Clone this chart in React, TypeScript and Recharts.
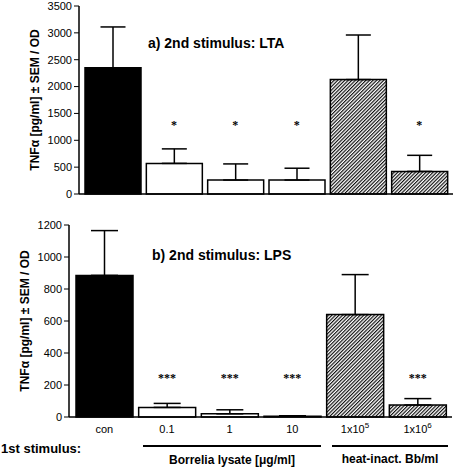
import React from 'react'
import {
  Bar,
  Cell,
  ComposedChart,
  ErrorBar,
  ReferenceDot,
  XAxis,
  YAxis,
} from 'recharts'

const categories = ['con', '0.1', '1', '10', '1x10^5', '1x10^6']
const fills = ['#000', '#fff', '#fff', '#fff', 'url(#hatch)', 'url(#hatch)']

// a) 2nd stimulus: LTA
const ltaMean = [2350, 570, 260, 260, 2130, 420]
const ltaSem = [760, 270, 300, 220, 830, 300]
const ltaStars = ['', '*', '*', '*', '', '*']
const ltaTicks = [0, 500, 1000, 1500, 2000, 2500, 3000, 3500]

// b) 2nd stimulus: LPS
const lpsMean = [885, 60, 20, 5, 640, 75]
const lpsSem = [280, 25, 25, 3, 250, 40]
const lpsStars = ['', '***', '***', '***', '', '***']
const lpsTicks = [0, 200, 400, 600, 800, 1000, 1200]

const ltaData = categories.map((cat, i) => ({ cat, mean: ltaMean[i], sem: ltaSem[i] }))
const lpsData = categories.map((cat, i) => ({ cat, mean: lpsMean[i], sem: lpsSem[i] }))

const FONT = '"Liberation Sans", Arial, sans-serif'
const Y_LABEL = 'TNFα [pg/ml] ± SEM / OD'

const yLabel = (cx: number) => (props: any) => {
  const { y, height } = props.viewBox
  const cy = y + height / 2
  return (
    <text
      x={cx}
      y={cy}
      transform={`rotate(-90 ${cx} ${cy})`}
      textAnchor="middle"
      dominantBaseline="central"
      fontSize={12}
      fontWeight="bold"
      fill="#000"
      fontFamily={FONT}
    >
      {Y_LABEL}
    </text>
  )
}

const CatTick = ({ x, y, payload }: any) => {
  const [base, sup] = String(payload.value).split('^')
  return (
    <text x={x} y={y + 10} textAnchor="middle" fontSize={11} fill="#000" fontFamily={FONT}>
      {base}
      {sup && (
        <tspan dy={-5} fontSize={8}>
          {sup}
        </tspan>
      )}
    </text>
  )
}

const Hatch = () => (
  <defs>
    <pattern
      id="hatch"
      patternUnits="userSpaceOnUse"
      width={2.5}
      height={2.5}
      patternTransform="rotate(45)"
    >
      <rect width={2.5} height={2.5} fill="#fff" />
      <line x1={0.6} y1={0} x2={0.6} y2={2.5} stroke="#000" strokeWidth={1.1} />
    </pattern>
  </defs>
)

const abs = (left: number, top: number, size: number, bold = true): React.CSSProperties => ({
  position: 'absolute',
  left,
  top: top - size / 2,
  fontSize: size,
  lineHeight: `${size}px`,
  fontWeight: bold ? 'bold' : 'normal',
  fontFamily: FONT,
  whiteSpace: 'nowrap',
  color: '#000',
})

export default function App() {
  return (
    <div style={{ position: 'absolute', left: 0, top: 0, width: 455, height: 468, background: '#fff' }}>
      <div style={{ position: 'absolute', left: 0, top: 0 }}>
        <ComposedChart
          width={455}
          height={200}
          data={ltaData}
          margin={{ top: 6, right: 2, left: 0, bottom: 5 }}
        >
          <Hatch />
          <XAxis
            dataKey="cat"
            tick={false}
            tickLine={false}
            height={1}
            padding={{ left: 3, right: 3 }}
            axisLine={{ stroke: '#000', strokeWidth: 1.5 }}
          />
          <YAxis
            width={79}
            domain={[0, 3500]}
            ticks={ltaTicks}
            interval={0}
            tickSize={5}
            tick={{ fontSize: 11, fill: '#000', fontFamily: FONT }}
            axisLine={{ stroke: '#000', strokeWidth: 1.5 }}
            tickLine={{ stroke: '#000' }}
            label={{ content: yLabel(35) }}
          />
          <Bar dataKey="mean" barSize={56} stroke="#000" strokeWidth={1.5} isAnimationActive={false}>
            {ltaData.map((d, i) => (
              <Cell key={d.cat} fill={fills[i]} />
            ))}
            <ErrorBar
              dataKey={(d: any) => [0, d.sem]}
              width={12.5}
              stroke="#000"
              strokeWidth={1.5}
              direction="y"
            />
          </Bar>
          {categories.map((c, i) =>
            ltaStars[i] ? (
              <ReferenceDot
                key={c}
                x={c}
                y={1290}
                r={0}
                fill="none"
                stroke="none"
                label={{ value: ltaStars[i], position: 'center', fontSize: 12, fontWeight: 'bold', fill: '#000' }}
              />
            ) : null
          )}
        </ComposedChart>
      </div>

      <div style={{ position: 'absolute', left: 0, top: 215 }}>
        <ComposedChart
          width={455}
          height={222}
          data={lpsData}
          margin={{ top: 10, right: 3, left: 0, bottom: 0 }}
        >
          <Hatch />
          <XAxis
            dataKey="cat"
            tick={<CatTick />}
            tickLine={false}
            tickSize={4}
            height={20}
            interval={0}
            padding={{ left: 4, right: 3 }}
            axisLine={{ stroke: '#000', strokeWidth: 1.5 }}
          />
          <YAxis
            width={69}
            domain={[0, 1200]}
            ticks={lpsTicks}
            interval={0}
            tickSize={5}
            tick={{ fontSize: 11, fill: '#000', fontFamily: FONT }}
            axisLine={{ stroke: '#000', strokeWidth: 1.5 }}
            tickLine={{ stroke: '#000' }}
            label={{ content: yLabel(25) }}
          />
          <Bar dataKey="mean" barSize={57} stroke="#000" strokeWidth={1.5} isAnimationActive={false}>
            {lpsData.map((d, i) => (
              <Cell key={d.cat} fill={fills[i]} />
            ))}
            <ErrorBar
              dataKey={(d: any) => [0, d.sem]}
              width={13.5}
              stroke="#000"
              strokeWidth={1.5}
              direction="y"
            />
          </Bar>
          {categories.map((c, i) =>
            lpsStars[i] ? (
              <ReferenceDot
                key={c}
                x={c}
                y={245}
                r={0}
                fill="none"
                stroke="none"
                label={{ value: lpsStars[i], position: 'center', fontSize: 12, fontWeight: 'bold', fill: '#000' }}
              />
            ) : null
          )}
        </ComposedChart>
      </div>

      <div style={abs(148, 43, 14)}>a) 2nd stimulus: LTA</div>
      <div style={abs(152, 255, 14)}>b) 2nd stimulus: LPS</div>

      <div style={abs(1, 448, 13)}>1st stimulus:</div>
      <div style={{ position: 'absolute', left: 143, top: 445, width: 178, height: 1.5, background: '#000' }} />
      <div style={{ position: 'absolute', left: 332, top: 445, width: 116, height: 1.5, background: '#000' }} />
      <div style={{ ...abs(143, 460, 12), width: 178, textAlign: 'center' }}>Borrelia lysate [μg/ml]</div>
      <div style={{ ...abs(332, 459, 12), width: 116, textAlign: 'center' }}>heat-inact. Bb/ml</div>
    </div>
  )
}
